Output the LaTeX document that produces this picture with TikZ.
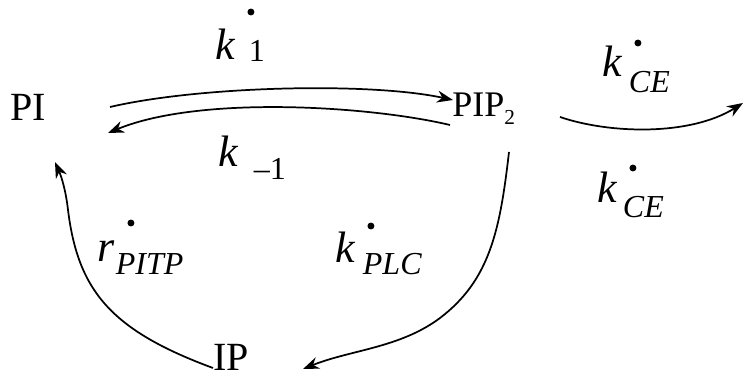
\documentclass[tikz,border=0pt]{standalone}
\usepackage{fontspec}
\setmainfont{Liberation Serif}
\usetikzlibrary{arrows.meta}
\newcommand\ratedot[6]{%
\rlap{\fontsize{33}{36}\selectfont\itshape #1}%
\rlap{\hspace*{#3}\raisebox{-#4}{\fontsize{24}{26}\selectfont #2}}%
\rlap{\hspace*{\dimexpr#5-2.6pt\relax}\raisebox{\dimexpr#6-2.6pt\relax}{\tikz\fill (0,0) circle (2.6pt);}}}
\newcommand\ratenodot[4]{%
\rlap{\fontsize{33}{36}\selectfont\itshape #1}%
\rlap{\hspace*{#3}\raisebox{-#4}{\fontsize{24}{26}\selectfont #2}}}
\begin{document}
\begin{tikzpicture}[x=0.75pt,y=-0.75pt,
  species/.style={anchor=base west,inner sep=0pt,font=\fontsize{30}{32}\selectfont},
  ratelabel/.style={anchor=base west,inner sep=0pt},
  conn/.style={line width=1.3pt,-{Stealth[length=12pt,width=9pt]}}]
\useasboundingbox (0,0) rectangle (744,381);
% species
\node[species] (PI) at (10,121) {PI};
\node[species,font=\fontsize{27}{29}\selectfont] (PIP2) at (452,117) {PIP\raisebox{-6pt}{\fontsize{16}{18}\selectfont 2}};
\node[species] (IP) at (213,371) {IP};
% rate labels
\node[ratelabel] (k1) at (215,60) {\ratedot{k}{1}{24.75pt}{1.5pt}{26.25pt}{36pt}};
\node[ratelabel] (km1) at (218,167) {\ratenodot{k}{–1}{26.25pt}{9.75pt}};
\node[ratelabel] (kce1) at (602,77) {\ratedot{k}{\itshape CE}{19.5pt}{12pt}{26.25pt}{25.5pt}};
\node[ratelabel] (kce2) at (597,203) {\ratedot{k}{\itshape CE}{18.75pt}{11.25pt}{26.25pt}{26.25pt}};
\node[ratelabel] (rpitp) at (97,262) {\ratedot{r}{\itshape PITP}{13.5pt}{9.75pt}{24.75pt}{29.25pt}};
\node[ratelabel] (kplc) at (335,263) {\ratedot{k}{\itshape PLC}{20.25pt}{9pt}{26.25pt}{27.75pt}};
% connector ends
\coordinate (piout) at (110,107);
\coordinate (pipin) at (453,100);
\coordinate (pipout) at (450,125);
\coordinate (piin) at (108,133);
\coordinate (ceout) at (560,117);
\coordinate (ceend) at (743,103);
\coordinate (pipdown) at (509,152);
\coordinate (ipin) at (303,369);
\coordinate (ipout) at (213,368);
\coordinate (piup) at (55,162);
% connectors
\draw[conn] (piout) .. controls (200,86) and (370,82) .. (pipin);
\draw[conn] (pipout) .. controls (370,106) and (200,95) .. (piin);
\draw[conn] (ceout) .. controls (610,134) and (690,136) .. (ceend);
\draw[conn] (pipdown) .. controls (500,230) and (490,280) .. (440,318)
  .. controls (400,348) and (350,350) .. (ipin);
\draw[conn] (ipout) .. controls (110,330) and (78,290) .. (68,210)
  .. controls (66,192) and (62,178) .. (piup);
\end{tikzpicture}
\end{document}
